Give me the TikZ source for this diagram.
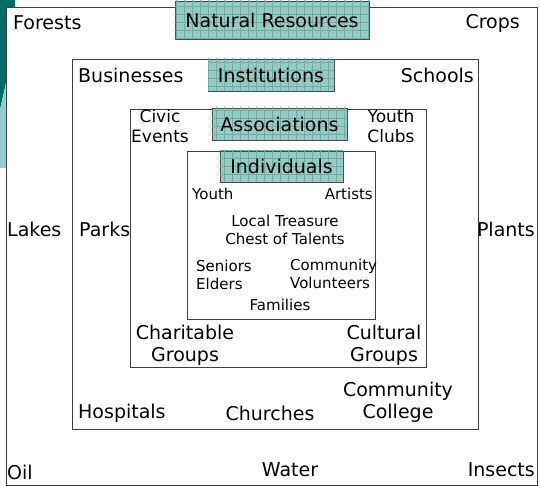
\documentclass[tikz,border=0pt]{standalone}
\usepackage{fontspec}
\setmainfont{DejaVu Sans}
\usetikzlibrary{patterns.meta}
\definecolor{tealfill}{RGB}{152,202,196}
\definecolor{tealgrid}{RGB}{112,172,165}
\definecolor{darkteal}{RGB}{0,108,104}
\definecolor{lightteal}{RGB}{150,204,204}
\tikzset{
  frame/.style={draw=black!75, line width=0.75pt},
  lbl/.style={draw=black!70, line width=0.6pt, fill=tealfill,
    postaction={pattern={Hatch[angle=0,distance=8pt,line width=0.45pt]}, pattern color=tealgrid},
    inner sep=0pt, font=\fontsize{19}{22}\selectfont},
  word/.style={inner sep=0pt, align=center, font=\fontsize{19}{22}\selectfont},
  midword/.style={inner sep=0pt, align=center, font=\fontsize{17}{19.5}\selectfont},
  smallword/.style={inner sep=0pt, align=center, font=\fontsize{15}{17.5}\selectfont}
}
\begin{document}
\begin{tikzpicture}[x=1pt,y=-1pt]
	\useasboundingbox (0,0) rectangle (540,486);
	
	%SFONDO
	\fill[darkteal] (0,0) -- (15,0) -- (15,7) -- (6,7) -- (6,83) -- (0,110) -- cycle;
	\fill[lightteal] (0,110) -- (6,83) -- (6,168) -- (0,168) -- cycle;
	
	%CORNICI
	\draw[frame] (6,7) rectangle (537,485);
	\draw[frame] (72,59) rectangle (478,429);
	\draw[frame] (130,109) rectangle (426,367);
	\draw[frame] (187,151) rectangle (375,319);
	
	%ETICHETTE
	\node[lbl, minimum width=194pt, minimum height=38pt] (natres) at (272,20) {Natural Resources};
	\node[lbl, minimum width=126pt, minimum height=32pt] (instit) at (271,75) {Institutions};
	\node[lbl, minimum width=135pt, minimum height=32pt] (assoc) at (279.5,124) {Associations};
	\node[lbl, minimum width=123pt, minimum height=31pt] (indiv) at (281.5,166.5) {Individuals};
	
	%RISORSE
	\node[word, anchor=west] (forests) at (13,23) {Forests};
	\node[word, anchor=east] (crops) at (520,23) {Crops};
	\node[word, anchor=west] (lakes) at (7,229) {Lakes};
	\node[word, anchor=east] (plants) at (535,229) {Plants};
	\node[word, anchor=west] (oil) at (7,472) {Oil};
	\node[word] (water) at (290,470) {Water};
	\node[word, anchor=east] (insects) at (535,470) {Insects};
	
	%ISTITUZIONI
	\node[word, anchor=west] (business) at (78,75) {Businesses};
	\node[word, anchor=east] (schools) at (474,75) {Schools};
	\node[word, anchor=west] (parks) at (79,229) {Parks};
	\node[word, anchor=west] (hospitals) at (78,413) {Hospitals};
	\node[word] (churches) at (270,413) {Churches};
	\node[word] (college) at (398,402) {Community\\College};
	
	%ASSOCIAZIONI
	\node[midword] (civic) at (160,126) {Civic\\Events};
	\node[midword] (youthclubs) at (391,126) {Youth\\Clubs};
	\node[word] (charity) at (185,345) {Charitable\\Groups};
	\node[word] (cultural) at (384,345) {Cultural\\Groups};
	
	%INDIVIDUI
	\node[smallword, anchor=west] (youth) at (192,194) {Youth};
	\node[smallword, anchor=east] (artists) at (373,194) {Artists};
	\node[smallword] (treasure) at (285,230) {Local Treasure\\Chest of Talents};
	\node[smallword, anchor=west, align=left] (seniors) at (196,275) {Seniors\\Elders};
	\node[smallword, anchor=west, align=left] (volunteers) at (290,274) {Community\\Volunteers};
	\node[smallword] (families) at (280,305) {Families};
\end{tikzpicture}
\end{document}
